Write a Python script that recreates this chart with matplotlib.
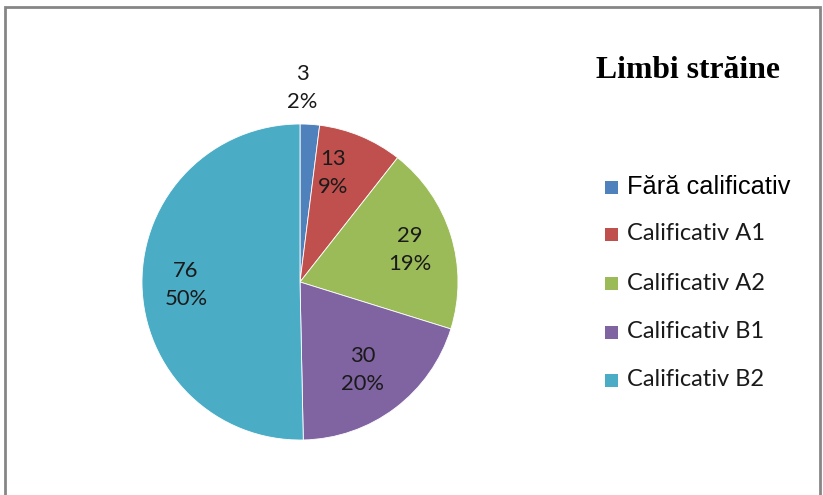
import matplotlib.pyplot as plt
from matplotlib.patches import Rectangle

# data
categories = ['Fără calificativ', 'Calificativ A1', 'Calificativ A2', 'Calificativ B1', 'Calificativ B2']
values = [3, 13, 29, 30, 76]
colors = ['#4F81BD', '#C0504D', '#9BBB59', '#8064A2', '#4BACC6']
title = 'Limbi străine'

W, H = 823, 495
fig = plt.figure(figsize=(W / 100, H / 100), dpi=100)
ax = fig.add_axes([0, 0, 1, 1])

# chart border (bottom edge cut off like the reference)
ax.add_patch(Rectangle((5, -20), 815, H - 7 + 20, fill=False, edgecolor='#868686', linewidth=2))

total = sum(values)
wedges, _ = ax.pie(values, colors=colors, startangle=90, counterclock=False,
                   center=(300, H - 282), radius=158, frame=True,
                   wedgeprops=dict(linewidth=0.6, edgecolor='white'))
ax.set_xlim(0, W)
ax.set_ylim(0, H)
ax.axis('off')

# data labels: value + percent
label_pos = [(302, 88), (333, 173), (410, 250), (363, 370), (186, 285)]
for v, (x, y) in zip(values, label_pos):
    ax.text(x, H - y, '%d\n%d%%' % (v, round(v * 100.0 / total)), ha='center', va='center',
            fontsize=15.8, family='Lato', linespacing=1.45, color='#1a1a1a')

# title
ax.text(688, H - 70, title, ha='center', va='center', fontsize=22.8,
        family='Liberation Serif', fontweight='bold')

# legend
ys = [187, 234, 283, 332, 380]
for i, (lab, c, y) in enumerate(zip(categories, colors, ys)):
    ax.add_patch(Rectangle((605, H - y - 6.5), 13, 13, facecolor=c, edgecolor='none'))
    if i == 0:
        ax.text(627, H - y, lab, ha='left', va='center', fontsize=18.3, family='Liberation Sans')
    else:
        ax.text(627, H - y, lab, ha='left', va='center', fontsize=17, family='Lato', color='#1a1a1a')

fig.savefig('out.png', dpi=100)
